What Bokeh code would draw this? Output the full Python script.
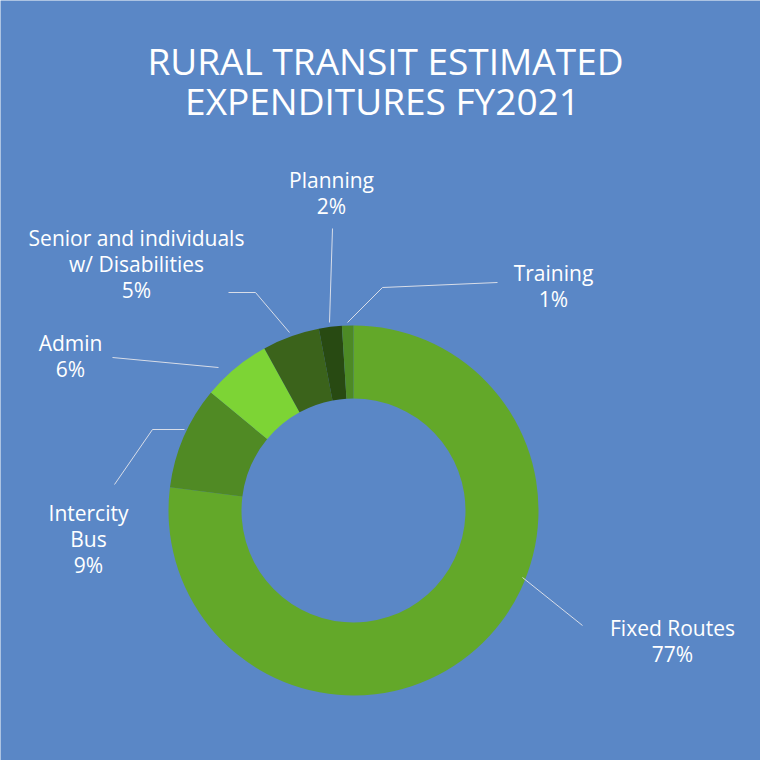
import math
from bokeh.plotting import figure
from bokeh.models import Range1d, ColumnDataSource
from bokeh.core.properties import value
from bokeh.embed import file_html
from bokeh.resources import INLINE

categories = ["Fixed Routes", "Intercity Bus", "Admin", "Senior and individuals w/ Disabilities", "Planning", "Training"]
values = [77, 9, 6, 5, 2, 1]
colors = ["#63a829", "#508a24", "#7dd435", "#3b631b", "#284a12", "#4d8a25"]

W = 760
p = figure(width=W, height=W, output_backend="svg", toolbar_location=None,
           x_range=Range1d(8, 768), y_range=Range1d(0, 760))
p.axis.visible = False
p.grid.visible = False
p.outline_line_color = None
p.background_fill_color = "#5a87c6"
p.border_fill_color = "#5a87c6"
p.min_border = 0

def Y(pix):
    return 768 - pix

cx, cy = 361, Y(518)
tot = sum(values)
starts, ends = [], []
c = 0
for v in values:
    starts.append(math.pi / 2 - 2 * math.pi * c / tot)
    c += v
    ends.append(math.pi / 2 - 2 * math.pi * c / tot)
src = ColumnDataSource(dict(s=starts, e=ends, col=colors))
p.annular_wedge(x=cx, y=cy, inner_radius=112, outer_radius=185, start_angle="s", end_angle="e",
                direction="clock", fill_color="col", line_color=None, source=src)

lc = "#d8dde8"
leaders = [
    ([530, 590], [585, 633]),
    ([192, 160, 122], [437, 437, 492]),
    ([226, 120], [375, 365]),
    ([297, 263, 236], [340, 300, 300]),
    ([337, 340], [330, 236]),
    ([355, 390, 505], [330, 295, 290]),
]
for xs, ys in leaders:
    p.line(xs, [Y(v) for v in ys], line_color=lc, line_width=1)

f = value("Open Sans")
def txt(x, y, lines, size="21px", align="center"):
    for i, t in enumerate(lines):
        p.text(x=[x], y=[Y(y + i * 26)], text=[t], text_color="white", text_font=f,
               text_font_size=size, text_align=align, text_baseline="middle")

txt(393, 68, ["RURAL TRANSIT ESTIMATED"], "37px")
txt(390, 108, ["EXPENDITURES FY2021"], "37px")
txt(680, 635, ["Fixed Routes", f"{values[0]}%"])
txt(96, 520, ["Intercity", "Bus", f"{values[1]}%"])
txt(78, 350, ["Admin", f"{values[2]}%"])
txt(144, 245, ["Senior and individuals", "w/ Disabilities", f"{values[3]}%"])
txt(339, 187, ["Planning", f"{values[4]}%"])
txt(561, 280, ["Training", f"{values[5]}%"])

open("out.html", "w").write(file_html(p, INLINE))
